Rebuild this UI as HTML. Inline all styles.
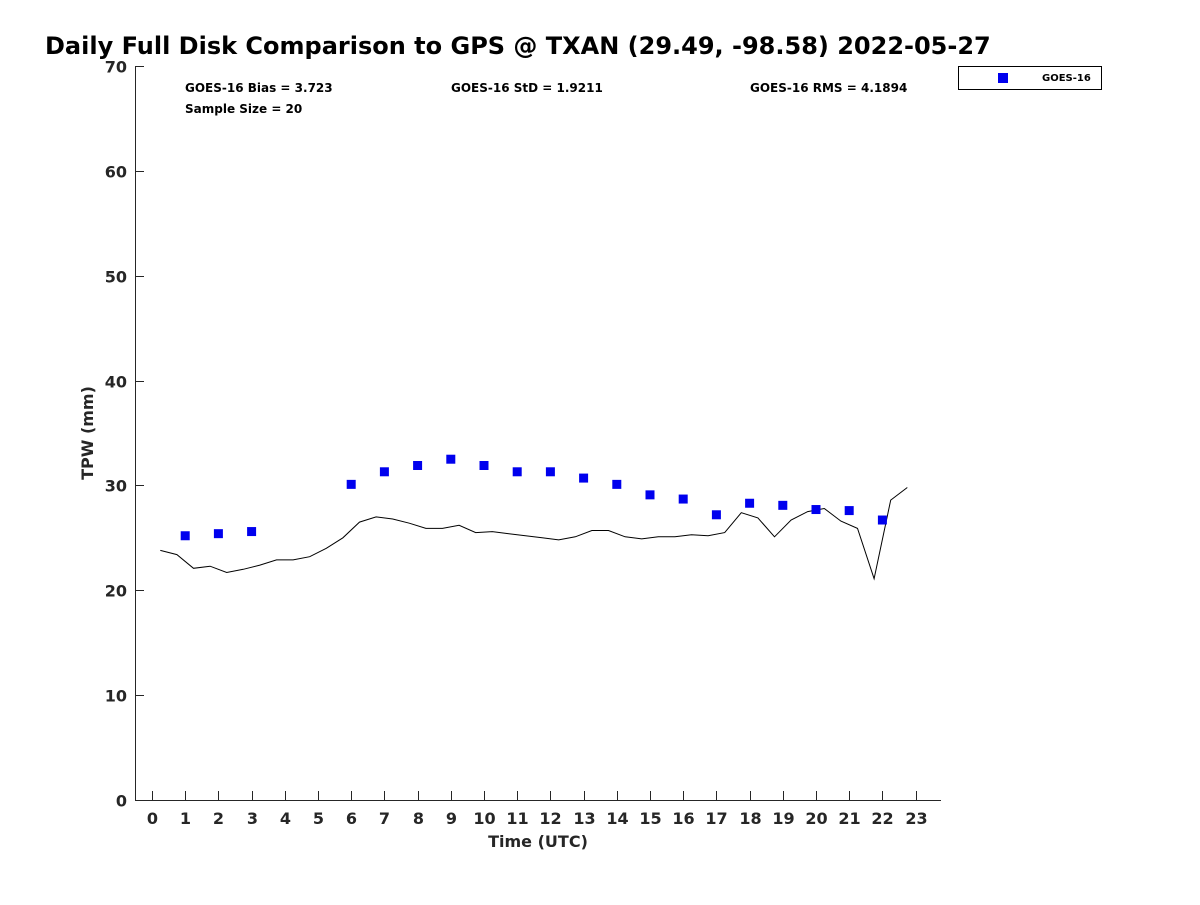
<!DOCTYPE html>
<html><head><meta charset="utf-8"><style>
html,body{margin:0;padding:0;background:#fff;}
svg text{font-family:"DejaVu Sans","Liberation Sans",sans-serif;font-weight:bold;fill:#262626;}
</style></head><body>
<svg id="chart" width="1200" height="900" viewBox="0 0 1200 900" xmlns="http://www.w3.org/2000/svg">
<text x="45" y="54" font-size="24" style="fill:#000">Daily Full Disk Comparison to GPS @ TXAN (29.49, -98.58) 2022-05-27</text>
<g id="axes"></g>
<g id="marks"></g>
<text x="185" y="92" font-size="12" style="fill:#000">GOES-16 Bias = 3.723</text>
<text x="185" y="113" font-size="12" style="fill:#000">Sample Size = 20</text>
<text x="451" y="92" font-size="12" style="fill:#000">GOES-16 StD = 1.9211</text>
<text x="750" y="92" font-size="12" style="fill:#000">GOES-16 RMS = 4.1894</text>
<g>
<rect x="958.5" y="66.5" width="143" height="23" fill="#fff" stroke="#000" stroke-width="1"/>
<rect x="998" y="73" width="10" height="10" fill="#0000ee"/>
<text x="1042" y="81" font-size="10" style="fill:#000">GOES-16</text>
</g>
<text x="538" y="847" font-size="16" text-anchor="middle">Time (UTC)</text>
<text transform="translate(93,433) rotate(-90)" font-size="16" text-anchor="middle">TPW (mm)</text>
</svg>
<script>
const xTicks = [0,1,2,3,4,5,6,7,8,9,10,11,12,13,14,15,16,17,18,19,20,21,22,23];
const yTicks = [0,10,20,30,40,50,60,70];
const gpsTimes = [0.25,0.75,1.25,1.75,2.25,2.75,3.25,3.75,4.25,4.75,5.25,5.75,6.25,6.75,7.25,7.75,8.25,8.75,9.25,9.75,10.25,10.75,11.25,11.75,12.25,12.75,13.25,13.75,14.25,14.75,15.25,15.75,16.25,16.75,17.25,17.75,18.25,18.75,19.25,19.75,20.25,20.75,21.25,21.75,22.25,22.75];
const gpsTpw = [23.8,23.4,22.1,22.3,21.7,22.0,22.4,22.9,22.9,23.2,24.0,25.0,26.5,27.0,26.8,26.4,25.9,25.9,26.2,25.5,25.6,25.4,25.2,25.0,24.8,25.1,25.7,25.7,25.1,24.9,25.1,25.1,25.3,25.2,25.5,27.4,26.9,25.1,26.7,27.5,27.8,26.6,25.9,21.1,28.6,29.8];
const goesTimes = [1,2,3,6,7,8,9,10,11,12,13,14,15,16,17,18,19,20,21,22];
const goesTpw = [25.2,25.4,25.6,30.1,31.3,31.9,32.5,31.9,31.3,31.3,30.7,30.1,29.1,28.7,27.2,28.3,28.1,27.7,27.6,26.7];

const NS = 'http://www.w3.org/2000/svg';
const X0 = 152, XS = 33.2, Y0 = 800, YS = 10.486;
const xScale = v => X0 + v * XS;
const yScale = v => Y0 - v * YS;
function mk(tag, attrs, parent){const e=document.createElementNS(NS,tag);for(const k in attrs)e.setAttribute(k,attrs[k]);parent.appendChild(e);return e;}
const axes = document.getElementById('axes');
const marks = document.getElementById('marks');

const yAxis = mk('line',{x1:135.5,y1:66,x2:135.5,y2:800.5,stroke:'#262626','stroke-width':1},axes);


const xAxis = mk('line',{x1:135,y1:800.5,x2:941,y2:800.5,stroke:'#262626','stroke-width':1},axes);



xTicks.forEach(t=>{
  const x = Math.round(xScale(t))+0.5;
  const tk = mk('line',{x1:x,y1:800,x2:x,y2:791,stroke:'#262626','stroke-width':1},axes);
  
  
  const lb = mk('text',{x:x,y:824,'font-size':16,'text-anchor':'middle'},axes);
  lb.textContent = t;
  
  
});
yTicks.forEach(t=>{
  const y = Math.round(yScale(t))+0.5;
  const tk = mk('line',{x1:135,y1:y,x2:144,y2:y,stroke:'#262626','stroke-width':1},axes);
  
  
  const lb = mk('text',{x:127,y:y+6,'font-size':16,'text-anchor':'end'},axes);
  lb.textContent = t;
  
  
});

const pts = gpsTimes.map((t,i)=>xScale(t).toFixed(1)+','+yScale(gpsTpw[i]).toFixed(1)).join(' ');
const line = mk('polyline',{points:pts,fill:'none',stroke:'#000','stroke-width':1},marks);



goesTimes.forEach((t,i)=>{
  const r = mk('rect',{x:xScale(t)-4.5,y:yScale(goesTpw[i])-4.5,width:9,height:9,fill:'#0000ee'},marks);
  
  
});
</script>
</body></html>
